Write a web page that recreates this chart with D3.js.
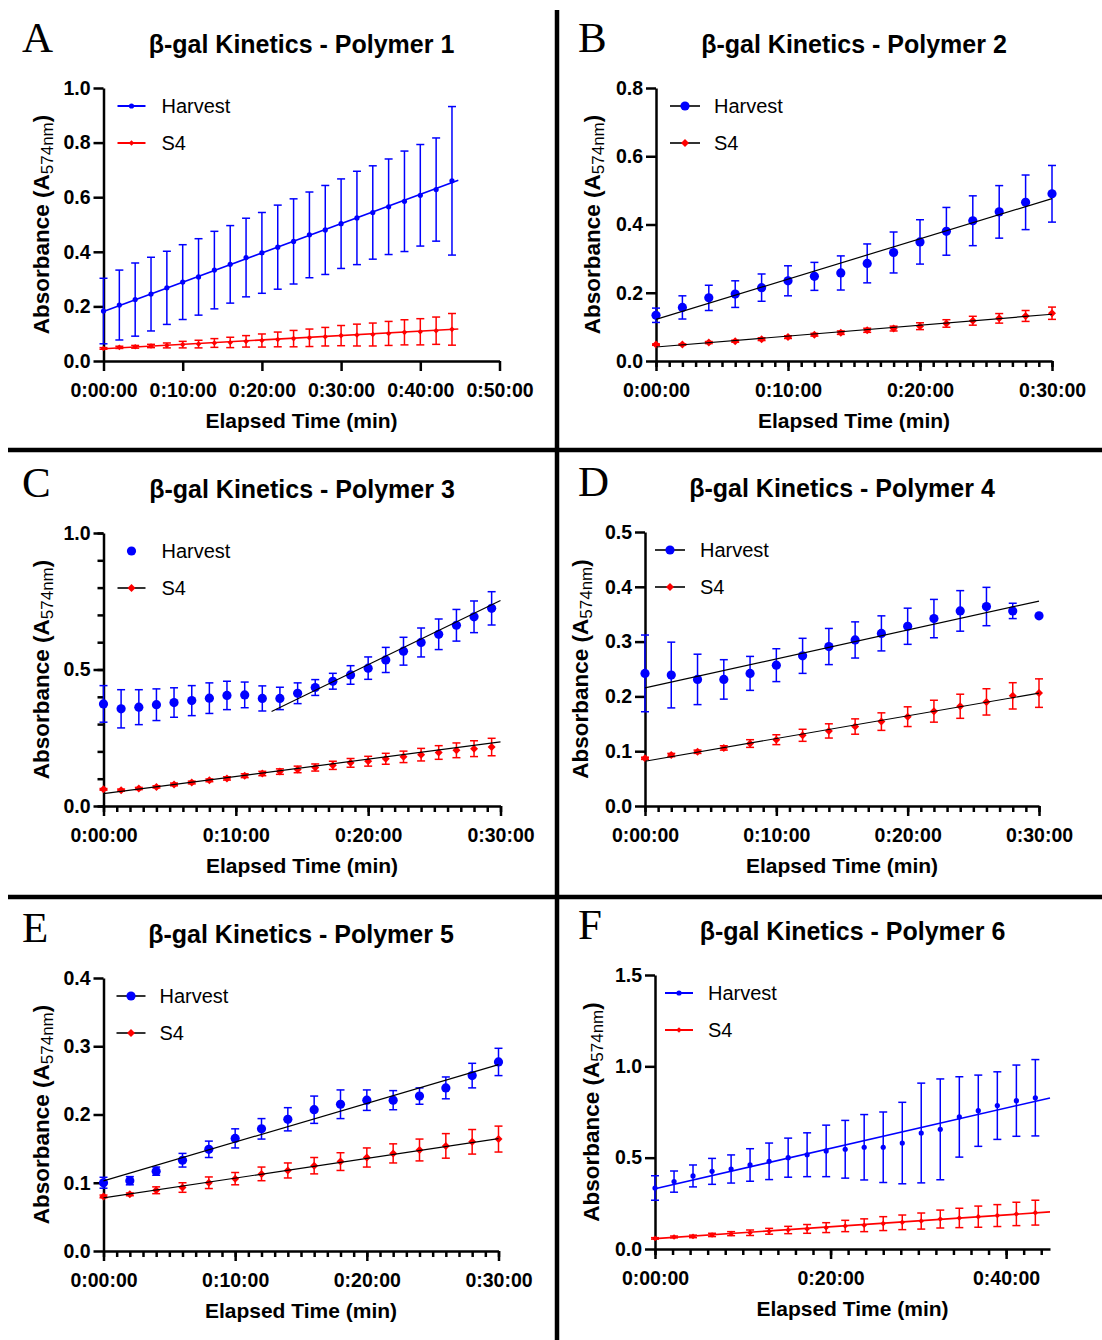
<!DOCTYPE html>
<html>
<head>
<meta charset="utf-8">
<script src="https://cdn.jsdelivr.net/npm/d3@7"></script>
<style>
body { margin: 0; background: #fff; }
svg { display: block; font-family: "Liberation Sans", Arial, sans-serif; }
</style>
</head>
<body>
<svg id="chart" width="1102" height="1340"></svg>
<script>
// DATA (times in minutes, absorbance values, SD for the error bars)
// fit lines are [t0, a0, t1, a1]

// Polymer 1
const timesA = [0, 2, 4, 6, 8, 10, 12, 14, 16, 18, 20, 22, 24, 26, 28, 30, 32, 34, 36, 38, 40, 42, 44];
const harvestA = [0.183, 0.205, 0.225, 0.245, 0.268, 0.289, 0.308, 0.333, 0.354, 0.379, 0.396, 0.417, 0.438, 0.462, 0.480, 0.503, 0.524, 0.544, 0.565, 0.585, 0.607, 0.628, 0.660];
const harvestSdA = [0.120, 0.128, 0.134, 0.135, 0.134, 0.137, 0.140, 0.142, 0.142, 0.144, 0.148, 0.154, 0.156, 0.157, 0.163, 0.164, 0.171, 0.171, 0.175, 0.184, 0.186, 0.189, 0.272];
const s4A = [0.046, 0.050, 0.052, 0.055, 0.057, 0.060, 0.062, 0.066, 0.068, 0.072, 0.075, 0.079, 0.082, 0.085, 0.089, 0.093, 0.095, 0.097, 0.101, 0.105, 0.107, 0.111, 0.116];
const s4SdA = [0.003, 0.004, 0.005, 0.006, 0.009, 0.012, 0.014, 0.016, 0.019, 0.021, 0.024, 0.027, 0.030, 0.032, 0.034, 0.037, 0.040, 0.042, 0.044, 0.046, 0.048, 0.050, 0.058];
const fitHarvestA = [0, 0.181, 44.8, 0.662];
const fitS4A = [0, 0.045, 44.8, 0.117];

// Polymer 2
const timesB = [0, 2, 4, 6, 8, 10, 12, 14, 16, 18, 20, 22, 24, 26, 28, 30];
const harvestB = [0.134, 0.157, 0.185, 0.196, 0.215, 0.235, 0.248, 0.258, 0.286, 0.318, 0.349, 0.380, 0.411, 0.437, 0.465, 0.490];
const harvestSdB = [0.021, 0.034, 0.037, 0.039, 0.040, 0.044, 0.041, 0.050, 0.057, 0.060, 0.065, 0.070, 0.073, 0.077, 0.080, 0.083];
const s4B = [0.048, 0.048, 0.054, 0.058, 0.064, 0.070, 0.077, 0.083, 0.090, 0.095, 0.102, 0.110, 0.118, 0.125, 0.132, 0.140];
const s4SdB = [0.002, 0.002, 0.003, 0.003, 0.004, 0.004, 0.004, 0.005, 0.006, 0.007, 0.010, 0.011, 0.013, 0.014, 0.016, 0.018];
const fitHarvestB = [0, 0.122, 30, 0.476];
const fitS4B = [0, 0.041, 30, 0.137];

// Polymer 3
const timesC = [0, 1.33, 2.67, 4, 5.33, 6.67, 8, 9.33, 10.67, 12, 13.33, 14.67, 16, 17.33, 18.67, 20, 21.33, 22.67, 24, 25.33, 26.67, 28, 29.33];
const harvestC = [0.374, 0.356, 0.362, 0.371, 0.379, 0.386, 0.395, 0.405, 0.407, 0.394, 0.394, 0.413, 0.434, 0.457, 0.480, 0.505, 0.535, 0.567, 0.599, 0.629, 0.662, 0.693, 0.724];
const harvestSdC = [0.067, 0.070, 0.064, 0.058, 0.054, 0.055, 0.056, 0.052, 0.047, 0.046, 0.041, 0.038, 0.029, 0.029, 0.034, 0.041, 0.046, 0.051, 0.053, 0.056, 0.058, 0.058, 0.061];
const s4C = [0.061, 0.058, 0.064, 0.070, 0.079, 0.086, 0.094, 0.101, 0.111, 0.119, 0.126, 0.134, 0.141, 0.149, 0.158, 0.164, 0.173, 0.180, 0.188, 0.196, 0.204, 0.210, 0.216];
const s4SdC = [0.003, 0.004, 0.004, 0.004, 0.005, 0.005, 0.005, 0.006, 0.007, 0.008, 0.010, 0.012, 0.013, 0.015, 0.016, 0.018, 0.020, 0.021, 0.023, 0.025, 0.027, 0.029, 0.032];
const fitHarvestC = [12.7, 0.346, 30, 0.753];
const fitS4C = [0, 0.045, 30, 0.235];

// Polymer 4
const timesD = [0, 2, 4, 6, 8, 10, 12, 14, 16, 18, 20, 22, 24, 26, 28, 30];
const harvestD = [0.242, 0.239, 0.231, 0.231, 0.242, 0.257, 0.274, 0.291, 0.303, 0.315, 0.328, 0.342, 0.356, 0.364, 0.356, 0.347];
const harvestSdD = [0.070, 0.060, 0.046, 0.036, 0.031, 0.030, 0.032, 0.033, 0.033, 0.032, 0.033, 0.035, 0.037, 0.035, 0.014, 0];
const s4D = [0.087, 0.093, 0.099, 0.106, 0.114, 0.121, 0.129, 0.137, 0.145, 0.154, 0.163, 0.173, 0.182, 0.190, 0.201, 0.206];
const s4SdD = [0.002, 0.003, 0.003, 0.004, 0.007, 0.009, 0.011, 0.013, 0.014, 0.016, 0.018, 0.020, 0.022, 0.024, 0.024, 0.026];
const fitHarvestD = [0, 0.2155, 30, 0.374];
const fitS4D = [0, 0.0817, 30, 0.206];

// Polymer 5
const timesE = [0, 2, 4, 6, 8, 10, 12, 14, 16, 18, 20, 22, 24, 26, 28, 30];
const harvestE = [0.100, 0.103, 0.117, 0.133, 0.149, 0.165, 0.179, 0.193, 0.207, 0.215, 0.221, 0.221, 0.227, 0.239, 0.257, 0.277];
const harvestSdE = [0.008, 0.006, 0.006, 0.010, 0.012, 0.014, 0.015, 0.017, 0.020, 0.021, 0.015, 0.014, 0.012, 0.016, 0.018, 0.020];
const s4E = [0.080, 0.083, 0.089, 0.093, 0.100, 0.106, 0.113, 0.118, 0.125, 0.131, 0.137, 0.143, 0.148, 0.154, 0.160, 0.164];
const s4SdE = [0.002, 0.002, 0.005, 0.007, 0.0085, 0.009, 0.010, 0.011, 0.012, 0.013, 0.014, 0.014, 0.016, 0.018, 0.018, 0.019];
const fitHarvestE = [0, 0.1028, 30, 0.273];
const fitS4E = [0, 0.0779, 30, 0.1646];

// Polymer 6
const timesF = [0, 2.17, 4.33, 6.5, 8.67, 10.83, 13, 15.17, 17.33, 19.5, 21.67, 23.83, 26, 28.17, 30.33, 32.5, 34.67, 36.83, 39, 41.17, 43.33];
const harvestF = [0.334, 0.369, 0.400, 0.425, 0.438, 0.460, 0.480, 0.500, 0.516, 0.537, 0.546, 0.557, 0.557, 0.580, 0.635, 0.655, 0.723, 0.757, 0.785, 0.812, 0.828];
const harvestSdF = [0.067, 0.058, 0.060, 0.071, 0.077, 0.089, 0.100, 0.107, 0.120, 0.141, 0.158, 0.179, 0.193, 0.223, 0.273, 0.276, 0.220, 0.195, 0.185, 0.195, 0.209];
const s4F = [0.058, 0.066, 0.069, 0.077, 0.084, 0.089, 0.097, 0.104, 0.110, 0.117, 0.126, 0.130, 0.139, 0.146, 0.153, 0.164, 0.170, 0.177, 0.183, 0.192, 0.199];
const s4SdF = [0.004, 0.005, 0.007, 0.009, 0.011, 0.015, 0.016, 0.020, 0.024, 0.027, 0.031, 0.035, 0.038, 0.040, 0.044, 0.049, 0.053, 0.058, 0.060, 0.064, 0.068];
const fitHarvestF = [0, 0.330, 45, 0.827];
const fitS4F = [0, 0.057, 45, 0.203];

// labels and ticks
const seriesNames = ['Harvest', 'S4'];
const panelLetters = ['A', 'B', 'C', 'D', 'E', 'F'];
const panelTitles = ['β-gal Kinetics - Polymer 1', 'β-gal Kinetics - Polymer 2', 'β-gal Kinetics - Polymer 3',
    'β-gal Kinetics - Polymer 4', 'β-gal Kinetics - Polymer 5', 'β-gal Kinetics - Polymer 6'];
const xMajorA = [0, 10, 20, 30, 40, 50];
const xMajor30 = [0, 10, 20, 30];
const xMajorF = [0, 20, 40];
const yTicksA = [0, 0.2, 0.4, 0.6, 0.8, 1.0];
const yTicksB = [0, 0.2, 0.4, 0.6, 0.8];
const yTicksC = [0, 0.5, 1.0];
const yTicksD = [0, 0.1, 0.2, 0.3, 0.4, 0.5];
const yTicksE = [0, 0.1, 0.2, 0.3, 0.4];
const yTicksF = [0, 0.5, 1.0, 1.5];

const BLUE = '#0000ff';
const RED = '#ff0000';

let svg = d3.select('#chart');

// panel frame lines
svg.append('line').attr('x1', 557).attr('x2', 557).attr('y1', 10).attr('y2', 1340)
    .attr('stroke', '#000').attr('stroke-width', 4.5);
[450, 897].forEach(function (yy) {
    svg.append('line').attr('x1', 8).attr('x2', 1102).attr('y1', yy).attr('y2', yy)
        .attr('stroke', '#000').attr('stroke-width', 4.5);
});

function timeLabel(m) { return '0:' + String(m).padStart(2, '0') + ':00'; }
function diamond(h) { return 'M0,' + (-h) + 'L' + h + ',0L0,' + h + 'L' + (-h) + ',0Z'; }

function drawMarker(sel, kind, size, color) {
    if (kind === 'circle') {
        return sel.append('circle').attr('r', size).attr('fill', color);
    }
    return sel.append('path').attr('d', diamond(size)).attr('fill', color);
}

function drawSeries(g, x, y, times, vals, sds, color, kind, size) {
    let pts = times.map(function (t, i) { return { t: t, v: vals[i], sd: sds[i] }; });
    let eb = g.append('g').attr('stroke', color).attr('stroke-width', 1.5).attr('fill', 'none');
    pts.filter(function (d) { return d.sd > 0; }).forEach(function (d) {
        let px = x(d.t);
        eb.append('line').attr('x1', px).attr('x2', px).attr('y1', y(d.v - d.sd)).attr('y2', y(d.v + d.sd));
        [d.v - d.sd, d.v + d.sd].forEach(function (e) {
            eb.append('line').attr('x1', px - 4).attr('x2', px + 4).attr('y1', y(e)).attr('y2', y(e));
        });
    });
    let mk = g.append('g');
    pts.forEach(function (d) {
        drawMarker(mk.append('g').attr('transform', 'translate(' + x(d.t) + ',' + y(d.v) + ')'), kind, size, color);
    });
}

function drawPanel(p) {
    let x = d3.scaleLinear().domain([0, p.xMax]).range([0, p.width]);
    let y = d3.scaleLinear().domain([0, p.yMax]).range([p.height, 0]);
    let g = svg.append('g').attr('transform', 'translate(' + p.left + ',' + p.top + ')');

    // panel letter + title
    svg.append('text').attr('x', p.letterX).attr('y', p.top - 36)
        .style('font-family', '"Liberation Serif", "Times New Roman", serif')
        .style('font-size', '43px').text(p.letter);
    g.append('text').attr('x', p.width / 2).attr('y', -35).attr('text-anchor', 'middle')
        .style('font-size', '25px').style('font-weight', 'bold').text(p.title);

    // axes
    g.append('g').attr('transform', 'translate(0,' + p.height + ')')
        .call(d3.axisBottom(x).tickValues(p.xMajor).tickFormat(timeLabel).tickSize(10).tickSizeOuter(0).tickPadding(12));
    if (p.xMinor) {
        g.append('g').attr('transform', 'translate(0,' + p.height + ')')
            .call(d3.axisBottom(x).tickValues(p.xMinor).tickFormat('').tickSize(6).tickSizeOuter(0))
            .select('.domain').remove();
    }
    g.append('g')
        .call(d3.axisLeft(y).tickValues(p.yMajor).tickFormat(d3.format('.1f')).tickSize(10).tickSizeOuter(0).tickPadding(3));
    if (p.yMinor) {
        g.append('g').call(d3.axisLeft(y).tickValues(p.yMinor).tickFormat('').tickSize(6).tickSizeOuter(0))
            .select('.domain').remove();
    }
    g.selectAll('.domain, .tick line').attr('stroke', '#000').attr('stroke-width', 2.5);
    g.selectAll('.tick text').attr('fill', '#000').style('font-size', '19.5px').style('font-weight', 'bold')
        .style('font-family', '"Liberation Sans", Arial, sans-serif');

    // axis titles
    g.append('text').attr('x', p.width / 2).attr('y', p.height + 67).attr('text-anchor', 'middle')
        .style('font-size', '21px').style('font-weight', 'bold').text('Elapsed Time (min)');
    let yl = g.append('text').attr('transform', 'translate(' + p.yLabelX + ',' + (p.height / 2) + ') rotate(-90)')
        .attr('text-anchor', 'middle').style('font-size', '22.5px').style('font-weight', 'bold');
    yl.append('tspan').text('Absorbance (A');
    yl.append('tspan').attr('dy', 4).style('font-size', '17px').style('font-weight', 'normal').text('574nm');
    yl.append('tspan').attr('dy', -4).text(')');

    // data
    drawSeries(g, x, y, p.times, p.s4, p.s4Sd, RED, 'diamond', p.s4Size);
    drawSeries(g, x, y, p.times, p.harvest, p.harvestSd, BLUE, p.harvestKind, p.harvestSize);

    // fit lines
    [[p.fitS4, p.fitColors[1]], [p.fitHarvest, p.fitColors[0]]].forEach(function (f) {
        g.append('line')
            .attr('x1', x(f[0][0])).attr('y1', y(f[0][1]))
            .attr('x2', x(f[0][2])).attr('y2', y(f[0][3]))
            .attr('stroke', f[1]).attr('stroke-width', p.fitWidth);
    });

    // legend
    seriesNames.forEach(function (name, i) {
        let cy = 18 + i * 37;
        let lg = g.append('g').attr('transform', 'translate(0,' + cy + ')');
        if (p.legendLine[i]) {
            lg.append('line').attr('x1', p.legX[0]).attr('x2', p.legX[1]).attr('y1', 0).attr('y2', 0)
                .attr('stroke', p.fitColors[i]).attr('stroke-width', p.fitWidth + 0.4);
        }
        let mg = lg.append('g').attr('transform', 'translate(' + ((p.legX[0] + p.legX[1]) / 2) + ',0)');
        if (i === 0) drawMarker(mg, p.harvestKind, p.harvestSize, BLUE);
        else drawMarker(mg, 'diamond', p.s4Size, RED);
        lg.append('text').attr('x', p.legText).attr('y', 7).style('font-size', '20px').text(name);
    });
}

let colorFits = [BLUE, RED];
let blackFits = ['#000', '#000'];

let panels = [
    { letter: panelLetters[0], title: panelTitles[0], left: 103.5, top: 88, width: 396, height: 273, letterX: 22,
      xMax: 50, xMajor: xMajorA, xMinor: null, yMax: 1.0, yMajor: yTicksA, yMinor: null,
      times: timesA, harvest: harvestA, harvestSd: harvestSdA, s4: s4A, s4Sd: s4SdA,
      fitHarvest: fitHarvestA, fitS4: fitS4A, fitColors: colorFits, fitWidth: 1.6,
      harvestKind: 'circle', harvestSize: 2.6, s4Size: 2.8, legendLine: [true, true],
      legX: [14, 42], legText: 58, yLabelX: -55 },
    { letter: panelLetters[1], title: panelTitles[1], left: 656, top: 88, width: 396, height: 273, letterX: 578,
      xMax: 30, xMajor: xMajor30, xMinor: d3.range(0, 31, 1), yMax: 0.8, yMajor: yTicksB, yMinor: null,
      times: timesB, harvest: harvestB, harvestSd: harvestSdB, s4: s4B, s4Sd: s4SdB,
      fitHarvest: fitHarvestB, fitS4: fitS4B, fitColors: blackFits, fitWidth: 1.2,
      harvestKind: 'circle', harvestSize: 4.6, s4Size: 4, legendLine: [true, true],
      legX: [14, 44], legText: 58, yLabelX: -56 },
    { letter: panelLetters[2], title: panelTitles[2], left: 103.5, top: 533, width: 397, height: 273, letterX: 22,
      xMax: 30, xMajor: xMajor30, xMinor: d3.range(0, 31, 1), yMax: 1.0, yMajor: yTicksC, yMinor: d3.range(0, 1.01, 0.1),
      times: timesC, harvest: harvestC, harvestSd: harvestSdC, s4: s4C, s4Sd: s4SdC,
      fitHarvest: fitHarvestC, fitS4: fitS4C, fitColors: blackFits, fitWidth: 1.2,
      harvestKind: 'circle', harvestSize: 4.6, s4Size: 4, legendLine: [false, true],
      legX: [14, 42], legText: 58, yLabelX: -55 },
    { letter: panelLetters[3], title: panelTitles[3], left: 645, top: 532, width: 394, height: 274, letterX: 578,
      xMax: 30, xMajor: xMajor30, xMinor: d3.range(0, 31, 1), yMax: 0.5, yMajor: yTicksD, yMinor: null,
      times: timesD, harvest: harvestD, harvestSd: harvestSdD, s4: s4D, s4Sd: s4SdD,
      fitHarvest: fitHarvestD, fitS4: fitS4D, fitColors: blackFits, fitWidth: 1.2,
      harvestKind: 'circle', harvestSize: 4.6, s4Size: 4, legendLine: [true, true],
      legX: [10, 40], legText: 55, yLabelX: -57 },
    { letter: panelLetters[4], title: panelTitles[4], left: 103.5, top: 978, width: 395, height: 273, letterX: 22,
      xMax: 30, xMajor: xMajor30, xMinor: d3.range(0, 31, 1), yMax: 0.4, yMajor: yTicksE, yMinor: null,
      times: timesE, harvest: harvestE, harvestSd: harvestSdE, s4: s4E, s4Sd: s4SdE,
      fitHarvest: fitHarvestE, fitS4: fitS4E, fitColors: blackFits, fitWidth: 1.2,
      harvestKind: 'circle', harvestSize: 4.6, s4Size: 4, legendLine: [true, true],
      legX: [13, 42], legText: 56, yLabelX: -55 },
    { letter: panelLetters[5], title: panelTitles[5], left: 655, top: 975, width: 395, height: 274, letterX: 578,
      xMax: 45, xMajor: xMajorF, xMinor: d3.range(0, 45, 2), yMax: 1.5, yMajor: yTicksF, yMinor: null,
      times: timesF, harvest: harvestF, harvestSd: harvestSdF, s4: s4F, s4Sd: s4SdF,
      fitHarvest: fitHarvestF, fitS4: fitS4F, fitColors: colorFits, fitWidth: 1.6,
      harvestKind: 'circle', harvestSize: 2.6, s4Size: 2.8, legendLine: [true, true],
      legX: [10, 38], legText: 53, yLabelX: -56 }
];

panels.forEach(drawPanel);
</script>
</body>
</html>
